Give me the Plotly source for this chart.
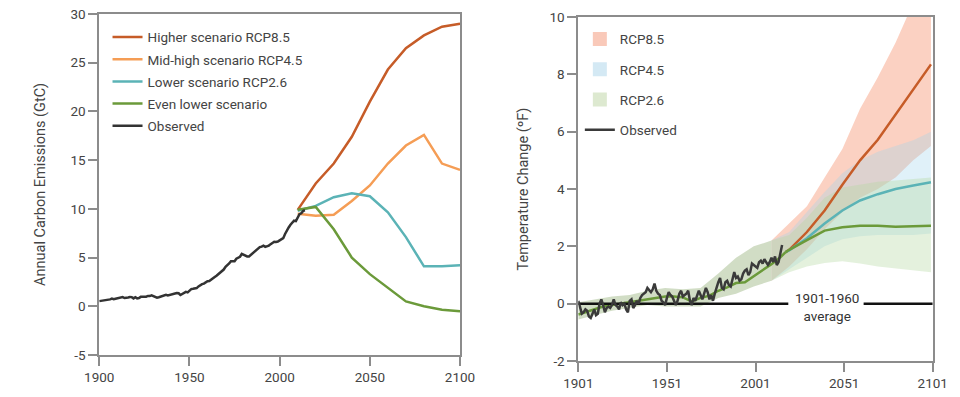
import plotly.graph_objects as go

# ---------------- Left panel data: carbon emissions (GtC) ----------------
obs_em_years = list(range(1900, 2015))
obs_em = [0.53, 0.55, 0.57, 0.62, 0.62, 0.66, 0.71, 0.79, 0.73, 0.78,
          0.82, 0.84, 0.88, 0.94, 0.85, 0.84, 0.90, 0.95, 0.94, 0.81,
          0.93, 0.81, 0.85, 0.97, 0.96, 0.98, 0.98, 1.06, 1.05, 1.13,
          1.06, 0.96, 0.88, 0.93, 1.00, 1.04, 1.13, 1.18, 1.12, 1.18,
          1.27, 1.31, 1.32, 1.36, 1.34, 1.16, 1.28, 1.40, 1.48, 1.43,
          1.63, 1.76, 1.79, 1.84, 1.87, 2.04, 2.18, 2.27, 2.33, 2.46,
          2.58, 2.59, 2.70, 2.85, 3.00, 3.13, 3.29, 3.39, 3.57, 3.77,
          4.05, 4.21, 4.39, 4.63, 4.64, 4.62, 4.88, 5.03, 5.08, 5.37,
          5.30, 5.15, 5.11, 5.11, 5.28, 5.44, 5.61, 5.75, 5.96, 6.07,
          6.13, 6.23, 6.10, 6.13, 6.23, 6.38, 6.54, 6.63, 6.61, 6.65,
          6.77, 6.93, 6.99, 7.42, 7.81, 8.09, 8.37, 8.57, 8.78, 8.74,
          9.17, 9.45, 9.54, 9.78, 9.86]

scen_years = [2010, 2020, 2030, 2040, 2050, 2060, 2070, 2080, 2090, 2100]
em_rcp85 = [9.9, 12.6, 14.65, 17.4, 21.0, 24.3, 26.5, 27.8, 28.7, 29.0]
em_rcp45 = [9.5, 9.3, 9.4, 10.8, 12.4, 14.65, 16.5, 17.6, 14.65, 14.0]
em_rcp26 = [9.8, 10.3, 11.2, 11.6, 11.3, 9.65, 7.1, 4.1, 4.1, 4.2]
em_lower = [9.9, 10.2, 7.9, 5.0, 3.3, 1.9, 0.5, 0.0, -0.35, -0.5]

em_names = ["Higher scenario RCP8.5", "Mid-high scenario RCP4.5",
            "Lower scenario RCP2.6", "Even lower scenario", "Observed"]
em_x_ticks = [1900, 1950, 2000, 2050, 2100]
em_y_ticks = [-5, 0, 5, 10, 15, 20, 25, 30]
em_y_ticktext = ["-5", "0", "5", "10", "15", "20", "25", "30"]

# ---------------- Right panel data: temperature change (F) ----------------
obs_t_years = list(range(1901, 2017))
obs_t = [0.10, -0.15, -0.35, -0.30, -0.20, -0.25, -0.45, -0.50, -0.35, -0.20,
         -0.40, -0.35, 0.00, 0.15, -0.05, -0.30, -0.15, -0.10, -0.15, -0.05,
         0.15, -0.05, -0.10, -0.20, 0.05, -0.05, 0.00, -0.20, -0.30, 0.10,
         0.15, -0.15, -0.05, 0.10, 0.00, 0.20, 0.30, 0.35, 0.40, 0.55,
         0.45, 0.40, 0.50, 0.70, 0.45, 0.35, 0.30, 0.10, 0.05, -0.05,
         0.20, 0.40, 0.30, 0.25, 0.10, -0.05, 0.10, 0.35, 0.45, 0.25,
         0.30, 0.35, 0.45, 0.10, -0.05, 0.20, 0.10, 0.30, 0.45, 0.30,
         0.15, 0.35, 0.55, 0.40, 0.15, 0.30, 0.10, 0.35, 0.60, 0.75,
         0.90, 0.55, 0.50, 0.75, 0.80, 0.65, 0.60, 0.90, 1.10, 0.90,
         0.95, 0.80, 0.85, 1.05, 1.15, 1.20, 1.00, 1.10, 1.40, 1.35,
         1.30, 1.25, 1.45, 1.50, 1.40, 1.55, 1.45, 1.35, 1.45, 1.60,
         1.45, 1.65, 1.35, 1.45, 1.75, 2.05]

hist_years = [1901, 1905, 1910, 1915, 1920, 1925, 1930, 1935, 1940, 1945,
              1950, 1955, 1960, 1965, 1970, 1975, 1980, 1985, 1990, 1995,
              2000, 2005, 2010, 2015, 2018]
hist_mean = [-0.38, -0.30, -0.20, -0.10, -0.05, 0.00, 0.05, 0.10, 0.15, 0.20,
             0.25, 0.25, 0.22, 0.08, 0.20, 0.28, 0.45, 0.57, 0.72, 0.75,
             0.95, 1.15, 1.38, 1.62, 1.80]

proj_years = [2018, 2020, 2030, 2040, 2050, 2060, 2070, 2080, 2090, 2100]
t_rcp85 = [1.80, 1.88, 2.50, 3.25, 4.15, 5.00, 5.72, 6.60, 7.50, 8.35]
t_rcp45 = [1.80, 1.86, 2.28, 2.80, 3.25, 3.60, 3.82, 4.00, 4.12, 4.24]
t_rcp26 = [1.80, 1.88, 2.22, 2.55, 2.67, 2.72, 2.72, 2.68, 2.70, 2.72]

# historical model range (shared by all scenarios)
hband_years = [1901, 1910, 1920, 1930, 1940, 1950, 1960, 1970, 1980, 1990, 2000, 2010]
hband_up = [0.05, 0.15, 0.25, 0.30, 0.45, 0.55, 0.50, 0.55, 1.05, 1.60, 2.00, 2.20]
hband_lo = [-0.55, -0.40, -0.25, -0.15, -0.05, -0.10, -0.10, -0.10, 0.20, 0.35, 0.60, 0.80]

# projected model ranges
pband_years = [2010, 2020, 2030, 2040, 2050, 2060, 2070, 2080, 2090, 2100]
b85_up = [2.2, 2.8, 3.4, 4.4, 5.4, 6.8, 7.9, 9.1, 10.5, 11.9]
b85_lo = [0.8, 1.3, 1.9, 2.6, 3.2, 3.7, 4.0, 4.4, 5.0, 5.5]
b45_up = [2.2, 2.5, 3.2, 3.9, 4.55, 5.0, 5.3, 5.5, 5.7, 6.0]
b45_lo = [0.8, 1.2, 1.6, 2.0, 2.25, 2.35, 2.4, 2.4, 2.4, 2.45]
b26_up = [2.2, 2.4, 3.0, 3.7, 4.05, 4.15, 4.25, 4.3, 4.35, 4.4]
b26_lo = [0.8, 1.1, 1.3, 1.42, 1.48, 1.4, 1.3, 1.22, 1.17, 1.1]

avg_years = [1901, 2019.5, None, 2062, 2101]
avg_vals = [0, 0, None, 0, 0]
avg_label = "1901-1960<br>average"
avg_label_pos = (2041.5, -0.12)

t_names = ["RCP8.5", "RCP4.5", "RCP2.6", "Observed"]
t_x_ticks = [1901, 1951, 2001, 2051, 2101]
t_y_ticks = [-2, 0, 2, 4, 6, 8, 10]
t_y_ticktext = ["-2", "0", "2", "4", "6", "8", "10"]

# ---------------- Styling ----------------
FONT = "Roboto"
TXT = "#444444"
AX = "#8c8c8c"
C85, C45, C26, CLOW, COBS = "#c65c28", "#f59d55", "#5bb3b6", "#6b9a3a", "#333333"
F85 = "rgba(247,158,128,0.48)"
F45 = "rgba(160,210,235,0.32)"
F26 = "rgba(180,215,160,0.36)"
FH = "rgba(178,198,158,0.6)"

fig = go.Figure()

# Left panel lines
for yv, col, nm in [(em_rcp85, C85, em_names[0]), (em_rcp45, C45, em_names[1]),
                    (em_rcp26, C26, em_names[2]), (em_lower, CLOW, em_names[3])]:
    fig.add_trace(go.Scatter(x=scen_years, y=yv, mode="lines", name=nm,
                             line=dict(color=col, width=2.5), legend="legend",
                             legendgroup=nm, xaxis="x", yaxis="y"))
fig.add_trace(go.Scatter(x=obs_em_years, y=obs_em, mode="lines", name=em_names[4],
                         line=dict(color=COBS, width=2.5), legend="legend",
                         legendgroup="obs_em", xaxis="x", yaxis="y"))

# Right panel bands
fig.add_trace(go.Scatter(x=hband_years + hband_years[::-1], y=hband_up + hband_lo[::-1],
                         fill="toself", fillcolor=FH, mode="lines", line=dict(width=0),
                         hoverinfo="skip", showlegend=False, xaxis="x2", yaxis="y2"))
for up, lo, fc in [(b85_up, b85_lo, F85), (b45_up, b45_lo, F45), (b26_up, b26_lo, F26)]:
    fig.add_trace(go.Scatter(x=pband_years + pband_years[::-1], y=up + lo[::-1],
                             fill="toself", fillcolor=fc, mode="lines",
                             line=dict(width=0), hoverinfo="skip", showlegend=False,
                             xaxis="x2", yaxis="y2"))

# Right panel legend swatches
for nm, fc in [(t_names[0], "#f9c9b9"), (t_names[1], "#d4e9f4"), (t_names[2], "#dde9d0")]:
    fig.add_trace(go.Scatter(x=[None], y=[None], mode="markers", name=nm,
                             marker=dict(symbol="square", size=14, color=fc),
                             legend="legend2", legendgroup=nm, xaxis="x2", yaxis="y2"))

# Right panel mean lines
fig.add_trace(go.Scatter(x=proj_years, y=t_rcp85, mode="lines", line=dict(color=C85, width=2.5),
                         showlegend=False, xaxis="x2", yaxis="y2"))
fig.add_trace(go.Scatter(x=proj_years, y=t_rcp45, mode="lines", line=dict(color=C26, width=2.5),
                         showlegend=False, xaxis="x2", yaxis="y2"))
fig.add_trace(go.Scatter(x=proj_years, y=t_rcp26, mode="lines", line=dict(color=CLOW, width=2.5),
                         showlegend=False, xaxis="x2", yaxis="y2"))
fig.add_trace(go.Scatter(x=hist_years, y=hist_mean, mode="lines", line=dict(color=CLOW, width=2.5),
                         showlegend=False, xaxis="x2", yaxis="y2"))
fig.add_trace(go.Scatter(x=avg_years, y=avg_vals, mode="lines", line=dict(color="#111111", width=2.5),
                         showlegend=False, connectgaps=False, xaxis="x2", yaxis="y2"))
fig.add_trace(go.Scatter(x=obs_t_years, y=obs_t, mode="lines", name=t_names[3],
                         line=dict(color="#3a3a3a", width=2.5), legend="legend2",
                         legendgroup="obs_t", xaxis="x2", yaxis="y2"))

fig.add_annotation(x=avg_label_pos[0], y=avg_label_pos[1], xref="x2", yref="y2",
                   text=avg_label, showarrow=False, font=dict(family=FONT, size=13.5, color="#333"),
                   align="center", yanchor="middle", xanchor="center")

axis_common = dict(showline=True, linecolor=AX, linewidth=1.8, mirror=True,
                   ticks="outside", ticklen=9, tickwidth=1.5, tickcolor=AX,
                   showgrid=False, zeroline=False, automargin=False,
                   tickfont=dict(family=FONT, size=13.5, color=TXT))

fig.update_layout(
    width=960, height=397,
    margin=dict(l=0, r=0, t=0, b=0),
    paper_bgcolor="white", plot_bgcolor="white",
    font=dict(family=FONT, size=13.5, color=TXT),
    xaxis=dict(domain=[0.1034, 0.4792], range=[1900, 2100], tickvals=em_x_ticks,
               anchor="y", **axis_common),
    yaxis=dict(domain=[0.1058, 0.9647], range=[-5, 30], tickvals=em_y_ticks,
               ticktext=em_y_ticktext,
               anchor="x", title=dict(text="Annual Carbon Emissions (GtC)",
                                      font=dict(family=FONT, size=14.5, color=TXT), standoff=21),
               **axis_common),
    xaxis2=dict(domain=[0.6024, 0.9716], range=[1901, 2101], tickvals=t_x_ticks,
                anchor="y2", **axis_common),
    yaxis2=dict(domain=[0.0907, 0.957], range=[-2, 10], tickvals=t_y_ticks,
                ticktext=t_y_ticktext,
                anchor="x2", title=dict(text="Temperature Change (ºF)",
                                        font=dict(family=FONT, size=14.5, color=TXT), standoff=17),
                **axis_common),
    legend=dict(x=0.112, y=0.945, xanchor="left", yanchor="top", bgcolor="rgba(0,0,0,0)",
                font=dict(family=FONT, size=13.5, color=TXT), tracegroupgap=1.6,
                traceorder="grouped"),
    legend2=dict(x=0.604, y=0.94, xanchor="left", yanchor="top", bgcolor="rgba(0,0,0,0)",
                 font=dict(family=FONT, size=13.5, color=TXT), tracegroupgap=9.7,
                 traceorder="grouped"),
    showlegend=True,
)

fig.write_html("out.html", post_script="document.body.style.margin='0';",
               config={"displayModeBar": False})
